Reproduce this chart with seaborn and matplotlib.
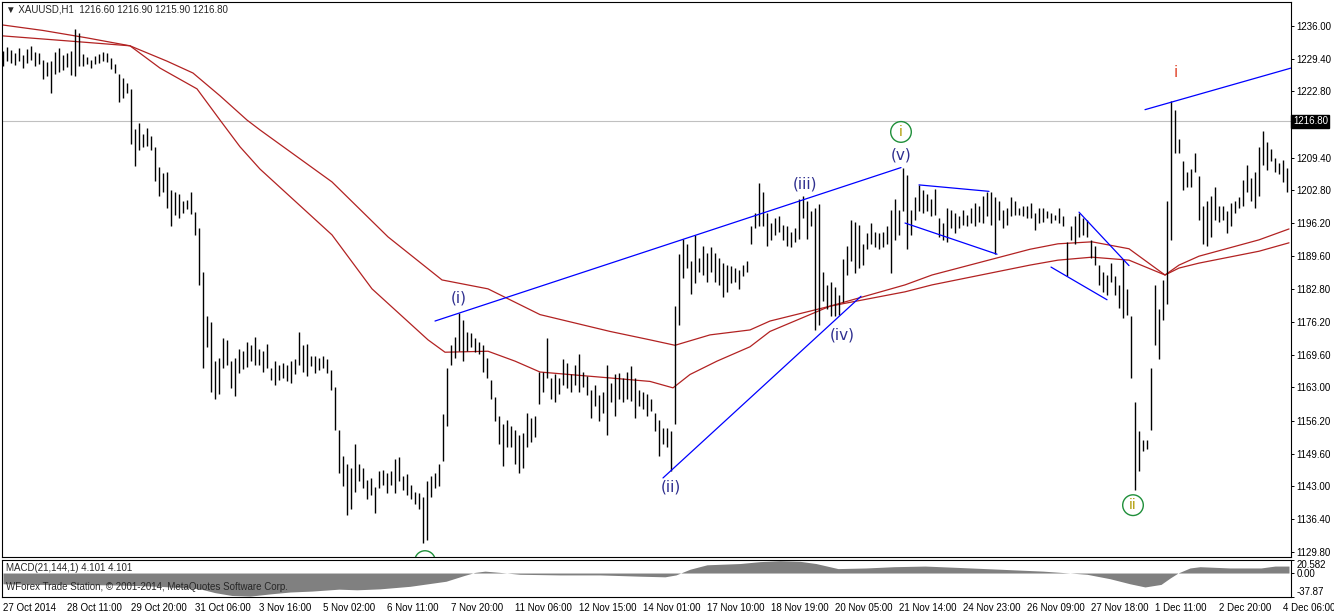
import numpy as np
import pandas as pd
import seaborn as sns
import matplotlib
matplotlib.use('Agg')
import matplotlib.pyplot as plt
from matplotlib.patches import Ellipse

# XAUUSD H1 - highs / lows, one value every second hourly bar
bar_high = [
    1231.0, 1231.8, 1231.2, 1230.6, 1231.5, 1230.2, 1231.4, 1231.9, 1230.8, 1230.5,
    1229.2, 1228.8, 1229.0, 1230.8, 1231.6, 1230.1, 1230.6, 1231.0, 1235.3, 1234.5,
    1230.4, 1229.7, 1229.2, 1229.9, 1230.3, 1230.7, 1230.5, 1229.6, 1228.4, 1226.4,
    1225.4, 1224.5, 1223.2, 1215.2, 1216.4, 1214.2, 1215.3, 1213.8, 1211.6, 1207.5,
    1206.3, 1206.6, 1202.8, 1202.5, 1202.1, 1200.6, 1200.9, 1202.5, 1198.4, 1195.2,
    1186.4, 1177.4, 1176.3, 1168.3, 1168.9, 1172.9, 1172.6, 1168.3, 1168.9, 1170.7,
    1170.4, 1172.2, 1171.5, 1173.2, 1170.8, 1170.4, 1171.8, 1167.0, 1168.3, 1167.6,
    1168.0, 1167.6, 1168.3, 1168.7, 1174.2, 1171.5, 1171.8, 1169.4, 1169.4, 1169.0,
    1169.4, 1168.7, 1166.6, 1163.1, 1154.4, 1149.2, 1147.5, 1146.8, 1151.6, 1147.5,
    1146.8, 1144.3, 1144.6, 1142.9, 1146.1, 1146.4, 1145.7, 1146.1, 1148.5, 1148.9,
    1145.0, 1145.4, 1143.3, 1141.9, 1141.6, 1140.9, 1144.0, 1145.0, 1145.7, 1147.5,
    1157.6, 1166.9, 1171.5, 1173.2, 1178.1, 1176.7, 1174.2, 1173.9, 1172.9, 1172.2,
    1171.5, 1169.0, 1164.5, 1161.0, 1157.2, 1155.5, 1156.5, 1155.1, 1154.4, 1153.4,
    1153.8, 1157.9, 1156.9, 1157.2, 1166.2, 1166.2, 1172.9, 1164.9, 1165.6, 1164.9,
    1168.7, 1168.0, 1165.6, 1167.6, 1169.7, 1166.2, 1165.2, 1162.4, 1163.5, 1161.4,
    1162.1, 1167.6, 1163.8, 1165.6, 1165.9, 1164.9, 1166.2, 1167.3, 1164.9, 1162.4,
    1162.1, 1161.7, 1160.7, 1157.9, 1156.5, 1154.8, 1154.8, 1154.1, 1179.5, 1189.9,
    1193.0, 1192.0, 1188.5, 1193.7, 1189.2, 1191.6, 1190.2, 1191.3, 1190.2, 1189.2,
    1188.2, 1187.8, 1187.5, 1187.1, 1186.8, 1187.8, 1188.5, 1195.5, 1198.2, 1204.2,
    1202.4, 1198.2, 1196.2, 1197.2, 1197.6, 1195.8, 1195.5, 1194.4, 1195.1, 1201.0,
    1201.7, 1200.7, 1198.6, 1199.3, 1200.0, 1186.4, 1183.6, 1184.3, 1183.3, 1181.6,
    1188.9, 1191.6, 1196.9, 1196.5, 1195.8, 1192.0, 1194.1, 1196.2, 1194.4, 1194.1,
    1194.4, 1195.5, 1198.9, 1201.0, 1198.9, 1207.4, 1205.9, 1198.9, 1201.4, 1203.8,
    1202.8, 1202.1, 1201.0, 1203.1, 1197.2, 1196.2, 1199.3, 1198.9, 1198.2, 1197.6,
    1198.9, 1197.9, 1199.3, 1200.3, 1199.6, 1201.7, 1202.4, 1202.4, 1201.4, 1200.7,
    1198.9, 1199.3, 1201.4, 1200.7, 1199.3, 1199.6, 1199.6, 1200.3, 1198.2, 1199.3,
    1199.3, 1198.6, 1198.2, 1197.9, 1199.3, 1197.6, 1192.3, 1195.5, 1197.6, 1198.2,
    1197.2, 1196.9, 1192.7, 1191.6, 1187.8, 1186.4, 1185.7, 1188.2, 1185.4, 1183.6,
    1188.9, 1182.9, 1177.4, 1160.0, 1154.1, 1152.3, 1152.3, 1166.9, 1183.6, 1178.8,
    1184.7, 1200.7, 1220.9, 1219.1, 1213.2, 1208.7, 1206.5, 1207.2, 1210.4, 1205.6,
    1199.6, 1200.7, 1201.7, 1203.5, 1199.6, 1199.6, 1198.6, 1200.3, 1200.7, 1201.4,
    1204.9, 1208.0, 1205.2, 1206.6, 1211.5, 1214.8, 1212.5, 1211.1, 1209.4, 1208.3,
    1209.0, 1207.3,
]
bar_low = [
    1228.0, 1229.0, 1228.6, 1228.1, 1228.9, 1227.6, 1228.5, 1229.2, 1227.9, 1228.3,
    1225.2, 1226.0, 1222.4, 1226.4, 1226.8, 1227.2, 1227.8, 1226.2, 1226.0, 1228.0,
    1227.9, 1228.4, 1227.5, 1228.3, 1228.6, 1228.9, 1228.7, 1227.4, 1226.5, 1220.7,
    1221.4, 1222.5, 1212.2, 1207.8, 1211.0, 1211.6, 1211.8, 1211.0, 1204.6, 1201.6,
    1202.4, 1199.3, 1195.5, 1197.8, 1197.2, 1198.2, 1199.0, 1198.1, 1193.8, 1183.7,
    1167.0, 1171.2, 1162.1, 1160.6, 1161.7, 1167.0, 1167.6, 1162.9, 1161.2, 1165.9,
    1166.8, 1167.2, 1168.3, 1167.6, 1167.6, 1166.2, 1166.9, 1164.5, 1163.5, 1164.5,
    1164.9, 1164.2, 1163.8, 1165.6, 1167.6, 1166.2, 1165.2, 1167.3, 1165.9, 1166.6,
    1166.9, 1165.9, 1162.4, 1154.4, 1145.7, 1143.0, 1137.2, 1138.4, 1141.9, 1144.0,
    1142.6, 1140.5, 1141.2, 1137.7, 1142.6, 1143.3, 1141.6, 1143.3, 1141.6, 1144.0,
    1142.2, 1141.2, 1140.5, 1139.5, 1138.4, 1131.5, 1132.2, 1140.9, 1142.6, 1143.0,
    1148.2, 1155.1, 1167.6, 1169.0, 1170.4, 1168.3, 1170.4, 1171.1, 1170.1, 1169.7,
    1166.2, 1164.9, 1160.7, 1156.2, 1151.6, 1147.1, 1150.9, 1150.9, 1147.5, 1145.7,
    1146.8, 1150.9, 1152.0, 1153.0, 1159.6, 1162.1, 1164.9, 1160.7, 1160.0, 1161.7,
    1163.5, 1162.8, 1162.1, 1163.5, 1162.1, 1163.1, 1161.4, 1156.9, 1159.3, 1156.2,
    1157.9, 1153.4, 1160.0, 1157.2, 1160.7, 1160.0, 1160.7, 1160.3, 1156.9, 1159.3,
    1158.6, 1157.2, 1158.2, 1154.1, 1149.2, 1151.6, 1150.9, 1146.1, 1155.5, 1175.6,
    1185.0, 1187.1, 1181.9, 1184.0, 1186.4, 1185.7, 1184.3, 1186.4, 1184.3, 1183.6,
    1181.2, 1182.2, 1184.0, 1184.3, 1182.9, 1185.4, 1186.4, 1192.0, 1195.1, 1195.5,
    1195.5, 1191.6, 1192.7, 1193.7, 1194.4, 1192.7, 1191.6, 1191.3, 1192.3, 1193.0,
    1197.2, 1193.0, 1195.5, 1174.6, 1175.6, 1180.5, 1178.8, 1177.4, 1177.4, 1177.7,
    1180.2, 1185.7, 1188.5, 1186.1, 1187.1, 1187.8, 1190.9, 1192.0, 1191.3, 1190.9,
    1191.3, 1192.0, 1186.1, 1192.7, 1193.7, 1198.6, 1190.9, 1193.7, 1196.9, 1198.6,
    1198.2, 1198.6, 1197.6, 1197.9, 1193.4, 1192.7, 1192.3, 1195.1, 1194.1, 1195.1,
    1195.8, 1195.5, 1196.2, 1195.5, 1196.5, 1196.2, 1197.6, 1195.8, 1189.9, 1196.9,
    1195.1, 1195.8, 1197.6, 1197.9, 1197.9, 1197.6, 1197.2, 1197.2, 1194.8, 1196.2,
    1196.5, 1197.2, 1196.2, 1196.9, 1196.2, 1195.5, 1185.4, 1192.7, 1192.0, 1193.4,
    1193.7, 1193.4, 1189.2, 1187.8, 1183.6, 1182.2, 1181.6, 1184.3, 1181.6, 1179.1,
    1177.0, 1177.7, 1164.9, 1142.2, 1146.1, 1150.2, 1150.6, 1154.4, 1171.5, 1168.7,
    1176.7, 1179.8, 1192.7, 1210.4, 1210.4, 1202.8, 1203.5, 1203.5, 1206.6, 1196.9,
    1192.0, 1191.6, 1193.4, 1196.9, 1196.5, 1196.9, 1194.1, 1195.5, 1198.2, 1199.3,
    1199.6, 1202.4, 1200.7, 1199.3, 1201.7, 1208.0, 1206.9, 1208.7, 1206.6, 1206.2,
    1204.5, 1202.4,
]

# two moving averages (bar number, price)
ma_slow_bar = [0, 20, 42, 63.5, 82, 95, 108.5, 122, 128.5, 164.5, 192.5, 219.5, 242.5,
               256, 268.5, 303.5, 323.5, 336, 353.5, 373.5, 383.5, 413.5, 451, 464.5,
               513.5, 527.5, 544.5, 563, 581, 588, 598, 628, 643]
ma_slow = [1236.2, 1235.1, 1233.6, 1232.0, 1228.9, 1226.5, 1221.9, 1217.0, 1215.0, 1204.5,
           1193.4, 1184.7, 1182.9, 1180.2, 1177.7, 1174.3, 1172.6, 1171.5, 1173.6, 1174.6,
           1176.4, 1179.4, 1182.3, 1183.7, 1187.7, 1188.7, 1189.3, 1188.7, 1185.7, 1187.1,
           1188.1, 1190.5, 1192.2]
ma_fast_bar = [0, 32, 63.5, 78.5, 97, 108.5, 118.5, 128.5, 164.5, 184.5, 212.5, 221, 242.5,
               256, 268.5, 303.5, 323.5, 335, 343.5, 357, 373.5, 383.5, 413.5, 451, 464.5,
               513.5, 527.5, 544.5, 563, 581, 588, 598, 628, 643]
ma_fast = [1234.0, 1233.0, 1232.0, 1227.5, 1223.3, 1217.0, 1211.6, 1207.1, 1193.8, 1182.9,
           1172.6, 1170.1, 1170.3, 1168.3, 1166.1, 1164.9, 1164.2, 1162.9, 1165.6, 1168.3,
           1171.2, 1174.3, 1179.4, 1183.7, 1185.7, 1190.9, 1192.0, 1192.4, 1191.0, 1185.7,
           1187.7, 1189.5, 1192.8, 1195.0]

# MACD(21,144,1) histogram
macd_bar = [0, 18.5, 38.5, 58.5, 78.5, 98.5, 106, 114.5, 123.5, 133.5, 143.5, 154.5, 168,
            177, 188.5, 203.5, 221.5, 230.5, 236, 241, 248.5, 258.5, 278.5, 298.5, 318.5,
            331, 336.5, 343.5, 352, 368.5, 378.5, 388.5, 398.5, 406.5, 417.5, 431.5, 445.5,
            461, 476.5, 498.5, 520, 533.5, 542, 553.5, 563.5, 571, 579, 583.5, 587.5, 593.5,
            598.5, 613.5, 629, 636, 643]
macd_val = [-17, -18, -18, -19, -21, -25, -31, -35.5, -36.5, -33, -30, -28.5, -25.5,
            -26.5, -25, -21, -13, -4, 1, 3, 1, -2, -3, -3, -5,
            -6, -3, 6, 13, 15, 18, 19.5, 18.5, 15, 7, 8, 10,
            11, 9, 6, 3, 0, -2, -9, -17, -22, -18, -8, 0, 8,
            10, 8, 8, 11, 11]
macd_top, macd_bottom = 20.582, -37.87

last_price = 1216.80
price_ticks = [1236.00, 1229.40, 1222.80, 1209.40, 1202.80, 1196.20, 1189.60, 1182.80,
               1176.20, 1169.60, 1163.00, 1156.20, 1149.60, 1143.00, 1136.40, 1129.80]
date_labels = ['27 Oct 2014', '28 Oct 11:00', '29 Oct 20:00', '31 Oct 06:00', '3 Nov 16:00',
               '5 Nov 02:00', '6 Nov 11:00', '7 Nov 20:00', '11 Nov 06:00', '12 Nov 15:00',
               '14 Nov 01:00', '17 Nov 10:00', '18 Nov 19:00', '20 Nov 05:00', '21 Nov 14:00',
               '24 Nov 23:00', '26 Nov 09:00', '27 Nov 18:00', '1 Dec 11:00', '2 Dec 20:00',
               '4 Dec 06:00']

# blue trend lines: (bar0, price0, bar1, price1)
trend_lines = [
    (216, 1176.4, 449, 1207.4),
    (330, 1144.7, 429, 1181.4),
    (458, 1203.9, 493, 1202.6),
    (451, 1196.2, 497, 1189.9),
    (538, 1198.4, 563, 1187.6),
    (524, 1187.3, 552, 1180.7),
    (571, 1219.1, 644, 1227.5),
]
# wave counts
wave_text = ['(i)', '(ii)', '(iii)', '(iv)', '(v)']
wave_bar = [228, 334, 401, 419.5, 449]
wave_price = [1181.05, 1142.9, 1204.1, 1173.6, 1209.9]
circled_text = ['i', 'ii', '']
circled_bar = [449, 565, 211]
circled_price = [1214.6, 1139.2, 1127.9]


sns.set_style('white')
plt.rcParams['font.family'] = ['Liberation Sans', 'DejaVu Sans']

W, H = 1334, 614
fig = plt.figure(figsize=(W / 100, H / 100), dpi=100)


def box(x0, y0, x1, y1):  # pixel box -> figure fraction
    return [x0 / W, 1 - y1 / H, (x1 - x0) / W, (y1 - y0) / H]


ax = fig.add_axes(box(2, 2, 1291, 557))
mx = fig.add_axes(box(2, 560, 1291, 597))

bars = pd.DataFrame({'bar': np.arange(len(bar_high)) * 2, 'high': bar_high, 'low': bar_low})
ax.axhline(last_price, color='#c0c0c0', lw=0.8, zorder=0)
ax.vlines(bars['bar'], bars['low'], bars['high'], color='black', lw=1.0, zorder=3)

sns.lineplot(x=ma_slow_bar, y=ma_slow, ax=ax, color='#b22222', lw=0.9, zorder=2)
sns.lineplot(x=ma_fast_bar, y=ma_fast, ax=ax, color='#b22222', lw=0.9, zorder=2)

for b0, p0, b1, p1 in trend_lines:
    ax.plot([b0, b1], [p0, p1], color='#0000ff', lw=0.9, zorder=4)

for s, b, p in zip(wave_text, wave_bar, wave_price):
    ax.text(b, p, s, ha='center', va='center', fontsize=11, color='#2f2f8f',
            family='DejaVu Sans', zorder=5)
for s, b, p in zip(circled_text, circled_bar, circled_price):
    ax.add_patch(Ellipse((b, p), width=10.3, height=4.18, fill=False, ec='#1f8f3a', lw=1.0, zorder=5))
    ax.text(b, p, s, ha='center', va='center', fontsize=10, color='#b09a00',
            family='DejaVu Sans', zorder=5)
ax.text(586.5, 1226.7, 'i', ha='center', va='center', fontsize=11, color='#e0442a',
        family='DejaVu Sans')

ax.set_xlim(-0.5, 644)
ax.set_ylim(1128.73, 1240.85)
ax.yaxis.tick_right()
ax.set_yticks(price_ticks)
ax.set_yticklabels([f'{v:.2f}' for v in price_ticks])
ax.set_xticks([])
ax.tick_params(axis='y', direction='out', length=2.5, width=0.7, pad=1.5, labelsize=7,
               colors='black')
ax.text(1.0015, last_price, '1216.80', transform=ax.get_yaxis_transform(), fontsize=7,
        color='white', va='center', ha='left',
        bbox=dict(boxstyle='square,pad=0.15', fc='black', ec='black'))

mx.fill_between(macd_bar, 0, macd_val, color='#808080', lw=0)
mx.set_xlim(-0.5, 644)
mx.set_ylim(macd_bottom, macd_top)
mx.yaxis.tick_right()
mx.set_yticks([macd_bottom, 0, macd_top])
mx.set_yticklabels(['-37.87', '0.00', '20.582'])
ylabs = mx.get_yticklabels()
ylabs[0].set_verticalalignment('bottom')
ylabs[2].set_verticalalignment('top')
mx.set_xticks([32 * k for k in range(len(date_labels))])
mx.set_xticklabels(date_labels, ha='left')
mx.tick_params(direction='out', length=2.5, width=0.7, pad=1.5, labelsize=7, colors='black')

for a in (ax, mx):
    for sp in a.spines.values():
        sp.set_color('black')
        sp.set_linewidth(0.8)

fig.text(6 / W, 1 - 10 / H, '▼ XAUUSD,H1  1216.60 1216.90 1215.90 1216.80', fontsize=7, va='center')
fig.text(6 / W, 1 - 568 / H, 'MACD(21,144,1) 4.101 4.101', fontsize=7, va='center')
fig.text(6 / W, 1 - 587 / H, 'WForex Trade Station, © 2001-2014, MetaQuotes Software Corp.',
         fontsize=7, va='center')

fig.savefig('out.png', dpi=100, facecolor='white')
